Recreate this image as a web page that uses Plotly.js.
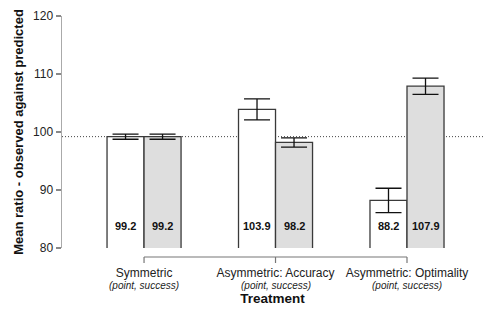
<!DOCTYPE html>
<html>
<head>
<meta charset="utf-8">
<script src="https://cdn.plot.ly/plotly-3.0.1.min.js"></script>
<style>html,body{margin:0;padding:0;background:#fff;}#chart{width:483px;height:309px;}</style>
</head>
<body>
<div id="chart"></div>
<script>
// ---- data ----
const categories = ["Symmetric", "Asymmetric: Accuracy", "Asymmetric: Optimality"];
const subLabels = ["(point, success)", "(point, success)", "(point, success)"];
const pointValues = [99.2, 103.9, 88.2];
const successValues = [99.2, 98.2, 107.9];
const pointErrors = [0.45, 1.8, 2.1];
const successErrors = [0.45, 0.8, 1.4];
const referenceLine = 99.2;
const yTicks = [80, 90, 100, 110, 120];
const labelY = 83.8;

const FONT = "Liberation Sans, Arial, sans-serif";
const barLine = {color: "#3a3a3a", width: 1.3};
const errStyle = (arr) => ({type: "data", array: arr, visible: true, color: "#111", thickness: 1.3, width: 13});

const traces = [
  {type: "bar", name: "point", x: categories, y: pointValues,
   marker: {color: "#ffffff", line: barLine}, error_y: errStyle(pointErrors), hoverinfo: "skip"},
  {type: "bar", name: "success", x: categories, y: successValues,
   marker: {color: "#dedede", line: barLine}, error_y: errStyle(successErrors), hoverinfo: "skip"}
];

const annotations = [];
categories.forEach((c, i) => {
  annotations.push({x: c, y: labelY, xref: "x", yref: "y", text: "<b>" + pointValues[i].toFixed(1) + "</b>",
    showarrow: false, xshift: -18.5, font: {family: FONT, size: 11, color: "#111"}});
  annotations.push({x: c, y: labelY, xref: "x", yref: "y", text: "<b>" + successValues[i].toFixed(1) + "</b>",
    showarrow: false, xshift: 18.5, font: {family: FONT, size: 11, color: "#111"}});
  annotations.push({x: c, y: -0.162, xref: "x", yref: "paper", yanchor: "middle", text: "<i>" + subLabels[i] + "</i>",
    showarrow: false, font: {family: FONT, size: 10, color: "#222"}});
});

const shapes = [
  {type: "line", xref: "paper", yref: "y", x0: 0, x1: 1, y0: referenceLine, y1: referenceLine,
   line: {color: "#444", width: 1, dash: "1px,2px"}, layer: "below"},
  {type: "line", xref: "x", yref: "paper", x0: 0, x1: categories.length - 1, y0: -0.0388, y1: -0.0388,
   line: {color: "#777", width: 1.2}}
];
categories.forEach((c, i) => {
  shapes.push({type: "line", xref: "x", yref: "paper", x0: i, x1: i, y0: -0.0388, y1: -0.0647,
    line: {color: "#777", width: 1.2}});
});

const layout = {
  width: 483, height: 309,
  margin: {l: 62, r: 0, t: 16, b: 61},
  paper_bgcolor: "#fff", plot_bgcolor: "#fff",
  showlegend: false,
  barmode: "group", bargap: 0.437, bargroupgap: 0,
  font: {family: FONT, color: "#222"},
  xaxis: {type: "category", range: [-0.624, 2.578], showgrid: false, zeroline: false, showline: false,
    ticks: "outside", ticklen: 14, tickcolor: "rgba(0,0,0,0)", tickfont: {size: 12, color: "#222"},
    title: {text: "<b>Treatment</b>", font: {size: 13.5, color: "#111"}, standoff: 14}, automargin: false},
  yaxis: {range: [80, 120], tickvals: yTicks, showgrid: false, zeroline: false,
    showline: true, linecolor: "#aaa", linewidth: 1.5,
    ticks: "outside", ticklen: 5, tickcolor: "#888", tickwidth: 1.2, tickfont: {size: 12, color: "#222"},
    title: {text: "<b>Mean ratio - observed against predicted</b>", font: {size: 13, color: "#111"}, standoff: 6},
    automargin: false},
  shapes: shapes,
  annotations: annotations
};

Plotly.newPlot("chart", traces, layout, {displayModeBar: false, staticPlot: true});
</script>
</body>
</html>
